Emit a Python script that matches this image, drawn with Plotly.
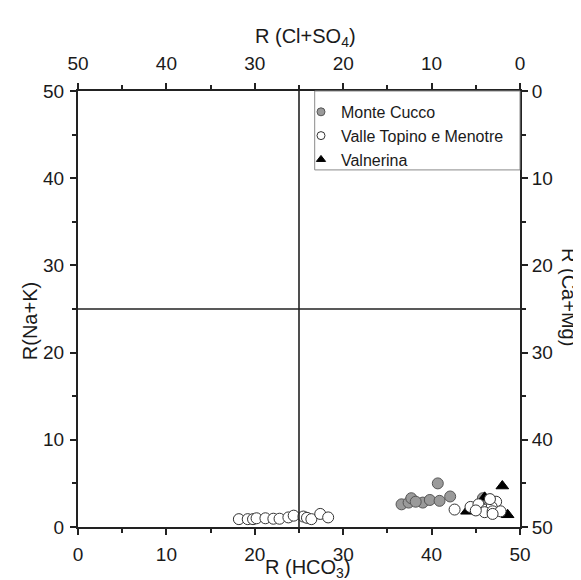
import plotly.graph_objects as go

# ---- data ----
monte_cucco_hco3 = [36.6, 37.4, 37.7, 39.0, 39.8, 40.9, 42.1, 40.7, 45.8, 38.2]
monte_cucco_nak  = [2.6, 2.8, 3.3, 2.8, 3.1, 3.0, 3.5, 5.0, 3.3, 2.9]

valle_hco3 = [18.2, 19.2, 19.8, 20.2, 21.2, 22.1, 22.8, 23.8, 24.4, 25.5, 25.9, 26.4, 27.4, 28.3,
              42.6, 44.4, 45.3, 46.2, 47.3, 46.8, 46.0, 46.9, 47.8, 45.0, 46.6, 46.9]
valle_nak  = [0.9, 0.9, 0.9, 1.0, 1.0, 0.95, 0.95, 1.1, 1.3, 1.2, 1.05, 0.9, 1.5, 1.1,
              2.0, 2.3, 2.6, 2.0, 2.9, 2.3, 1.7, 1.8, 1.8, 1.9, 3.2, 1.5]

valnerina_hco3 = [44.0, 48.6, 48.0, 46.0]
valnerina_nak  = [1.8, 1.4, 4.7, 3.4]

series_names = ["Monte Cucco", "Valle Topino e Menotre", "Valnerina"]
major_ticks = [0, 10, 20, 30, 40, 50]
divide_value = [25]
axis_range = [0, 50]

FONT = "Liberation Sans, Arial, sans-serif"
TXT = "#1a1a1a"

styles = {
    "Monte Cucco": dict(symbol="circle", color="#9a9a9a", line=dict(color="#555555", width=1)),
    "Valle Topino e Menotre": dict(symbol="circle", color="white", line=dict(color="#333333", width=1)),
    "Valnerina": dict(symbol="triangle-up", color="black", line=dict(color="black", width=1)),
}

fig = go.Figure()

# legend entries (small markers, as in the original key)
for nm in series_names:
    st = styles[nm]
    fig.add_trace(go.Scatter(x=[None], y=[None], mode="markers", name=nm, legendgroup=nm,
                             marker=dict(size=8, **st)))

# data: drawing order gray -> triangles -> white
data = [
    ("Monte Cucco", monte_cucco_hco3, monte_cucco_nak),
    ("Valnerina", valnerina_hco3, valnerina_nak),
    ("Valle Topino e Menotre", valle_hco3, valle_nak),
]
for nm, xs, ys in data:
    fig.add_trace(go.Scatter(x=xs, y=ys, mode="markers", name=nm, legendgroup=nm, showlegend=False,
                             marker=dict(size=11, **styles[nm])))

# dummy empty trace to register the secondary (top/right) axes
fig.add_trace(go.Scatter(x=[None], y=[None], xaxis="x2", yaxis="y2", showlegend=False,
                         hoverinfo="skip", mode="markers"))

# divider lines at 25 / 25
for v in divide_value:
    fig.add_shape(type="line", xref="x", yref="paper", x0=v, x1=v, y0=0, y1=1,
                  line=dict(color="#222222", width=1.6))
    fig.add_shape(type="line", xref="paper", yref="y", x0=0, x1=1, y0=v, y1=v,
                  line=dict(color="#222222", width=1.6))

# legend frame
fig.add_shape(type="rect", xref="paper", yref="paper", x0=0.5355, x1=1.0, y0=0.819, y1=1.0,
              line=dict(color="#8a8a8a", width=1), fillcolor="rgba(0,0,0,0)")


def axis(standoff, **kw):
    d = dict(
        tickvals=major_ticks, ticks="outside", ticklen=6, tickwidth=1.5, tickcolor="#222",
        showline=True, linecolor="#222", linewidth=2, showgrid=False, zeroline=False,
        tickfont=dict(family=FONT, size=19, color=TXT), ticklabelstandoff=standoff,
        minor=dict(dtick=5, ticks="outside", ticklen=4, tickwidth=1.5, tickcolor="#222",
                   showgrid=False),
    )
    d.update(kw)
    return d


fig.update_layout(
    width=581, height=580,
    margin=dict(l=70, r=69, t=83, b=61),
    paper_bgcolor="white", plot_bgcolor="white",
    font=dict(family=FONT, color=TXT),
    xaxis=axis(3, range=axis_range, side="bottom"),
    yaxis=axis(2, range=axis_range, side="left"),
    xaxis2=axis(5, range=axis_range[::-1], side="top", overlaying="x", anchor="y"),
    yaxis2=axis(0, range=axis_range[::-1], side="right", overlaying="y", anchor="x"),
    showlegend=True,
    legend=dict(x=0.5045, y=0.991, xanchor="left", yanchor="top",
                bgcolor="rgba(0,0,0,0)", borderwidth=0,
                font=dict(family=FONT, size=16, color=TXT),
                itemsizing="trace", tracegroupgap=0),
)

ann = dict(showarrow=False, font=dict(family=FONT, size=20, color=TXT))
fig.add_annotation(text="R (HCO<sub>3</sub>)", xref="paper", yref="paper", x=0.52, y=0,
                   yanchor="middle", yshift=-41, **ann)
fig.add_annotation(text="R (Cl+SO<sub>4</sub>)", xref="paper", yref="paper", x=0.514, y=1,
                   yanchor="middle", yshift=54, **ann)
fig.add_annotation(text="R(Na+K)", xref="paper", yref="paper", x=0, y=0.472,
                   xanchor="center", yanchor="middle", xshift=-48, textangle=-90, **ann)
fig.add_annotation(text="R (Ca+Mg)", xref="paper", yref="paper", x=1, y=0.5275,
                   xanchor="center", yanchor="middle", xshift=49, textangle=90, **ann)

fig.write_html("out.html")
